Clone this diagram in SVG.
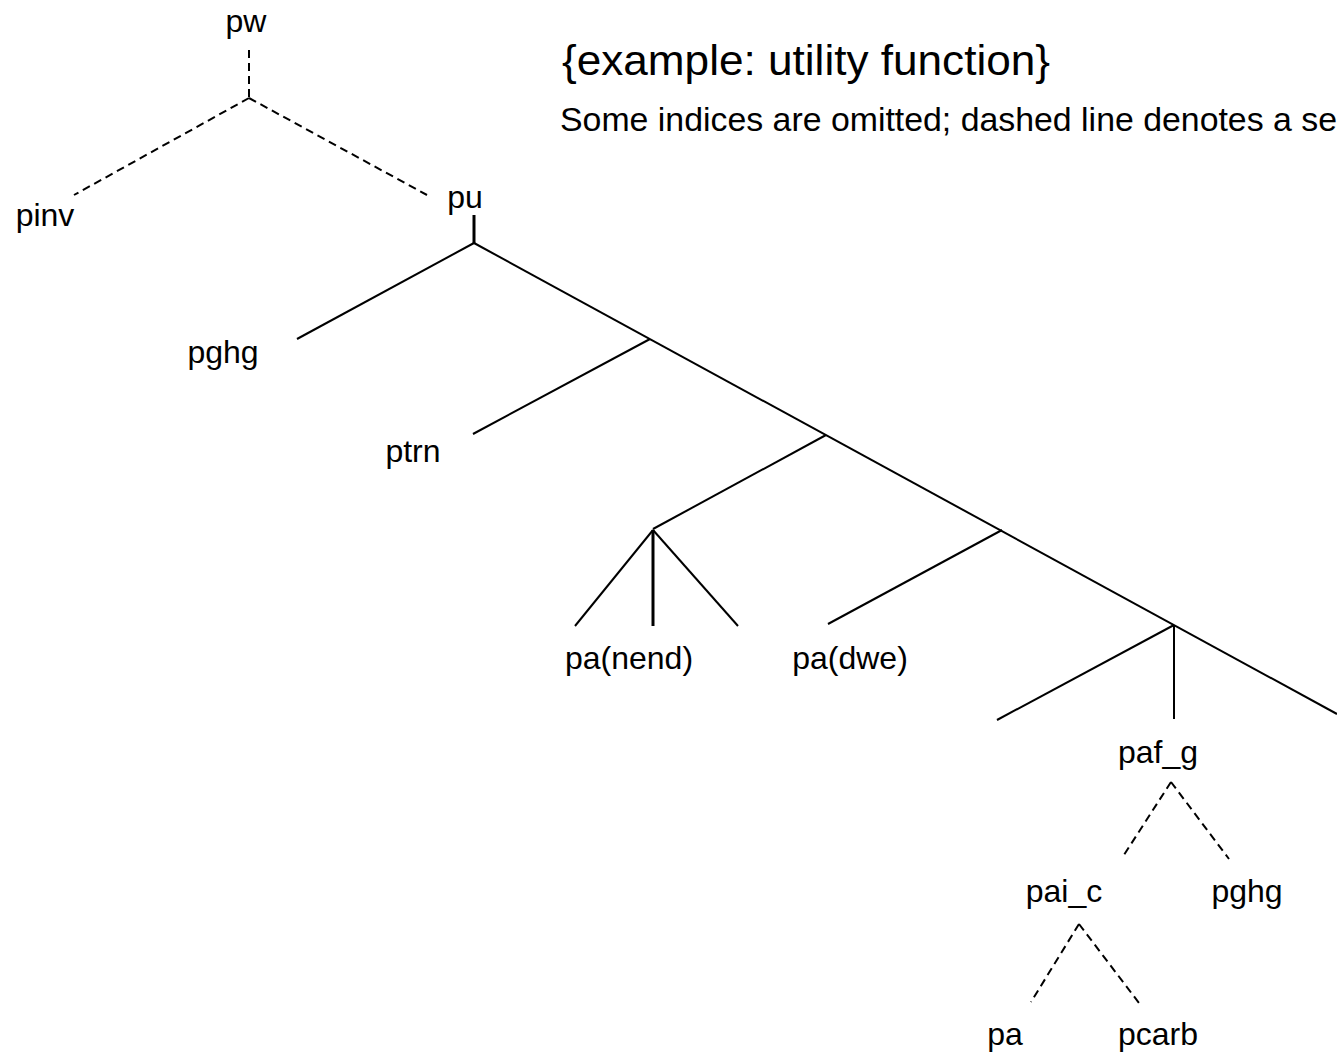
<svg xmlns="http://www.w3.org/2000/svg" width="1337" height="1054" viewBox="0 0 1337 1054">
  <style>
    text { font-family: "Liberation Sans", Arial, sans-serif; fill: #000; }
    .node text { font-size: 32px; text-anchor: middle; }
    .title { font-size: 43px; }
    .note { font-size: 33px; }
    .edge { stroke: #000; stroke-width: 2; fill: none; stroke-linecap: butt; }
    .dash { stroke-dasharray: 8 5; }
    .thick { stroke-width: 3; }
  </style>
  <rect width="1337" height="1054" fill="#fff"/>

  <!-- heading -->
  <text class="title" x="562" y="75" textLength="488" lengthAdjust="spacingAndGlyphs">{example: utility function}</text>
  <text class="note" x="560" y="131" textLength="777" lengthAdjust="spacingAndGlyphs">Some indices are omitted; dashed line denotes a se</text>

  <!-- connectors -->
  <g id="connectors">
    <!-- pw split (dashed) -->
    <line class="edge dash" x1="249" y1="50" x2="249" y2="98"/>
    <line class="edge dash" x1="249" y1="98" x2="74" y2="195"/>
    <line class="edge dash" x1="249" y1="98" x2="427" y2="195"/>
    <!-- pu tree -->
    <line class="edge thick" x1="474" y1="215" x2="474" y2="243"/>
    <line class="edge" x1="474" y1="243" x2="297" y2="339"/>
    <line class="edge" x1="474" y1="243" x2="1337" y2="714"/>
    <line class="edge" x1="650" y1="339" x2="473" y2="434"/>
    <line class="edge" x1="826" y1="435" x2="653" y2="529"/>
    <line class="edge" x1="653" y1="530" x2="575" y2="626"/>
    <line class="edge thick" x1="653" y1="530" x2="653" y2="626"/>
    <line class="edge" x1="653" y1="530" x2="738" y2="626"/>
    <line class="edge" x1="1002" y1="530" x2="828" y2="624"/>
    <line class="edge" x1="1174" y1="625" x2="997" y2="720"/>
    <line class="edge" x1="1174" y1="625" x2="1174" y2="719"/>
    <!-- paf_g split (dashed) -->
    <line class="edge dash" x1="1171" y1="782" x2="1122" y2="858"/>
    <line class="edge dash" x1="1171" y1="782" x2="1229" y2="859"/>
    <!-- pai_c split (dashed) -->
    <line class="edge dash" x1="1079" y1="924" x2="1031" y2="1002"/>
    <line class="edge dash" x1="1079" y1="924" x2="1139" y2="1003"/>
  </g>

  <!-- nodes -->
  <g id="pw" class="node"><text x="246" y="32">pw</text></g>
  <g id="pinv" class="node"><text x="45" y="226">pinv</text></g>
  <g id="pu" class="node"><text x="465" y="208">pu</text></g>
  <g id="pghg-top" class="node"><text x="223" y="363">pghg</text></g>
  <g id="ptrn" class="node"><text x="413" y="462">ptrn</text></g>
  <g id="pa-nend" class="node"><text x="629" y="669">pa(nend)</text></g>
  <g id="pa-dwe" class="node"><text x="850" y="669">pa(dwe)</text></g>
  <g id="paf_g" class="node"><text x="1158" y="763">paf_g</text></g>
  <g id="pai_c" class="node"><text x="1064" y="902">pai_c</text></g>
  <g id="pghg-low" class="node"><text x="1247" y="902">pghg</text></g>
  <g id="pa" class="node"><text x="1005" y="1045">pa</text></g>
  <g id="pcarb" class="node"><text x="1158" y="1045">pcarb</text></g>
</svg>
